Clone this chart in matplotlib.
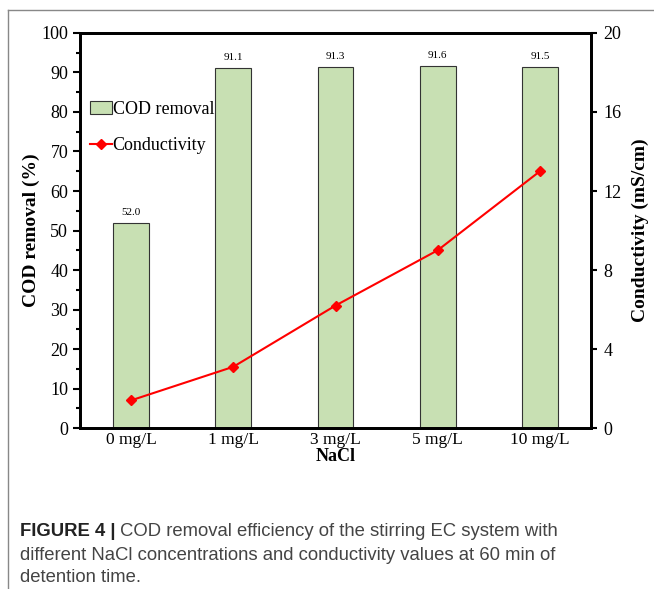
import numpy as np
import matplotlib
matplotlib.use("Agg")
import matplotlib.pyplot as plt
from matplotlib.lines import Line2D

# data
nacl = ['0 mg/L', '1 mg/L', '3 mg/L', '5 mg/L', '10 mg/L']
cod_removal = [52.0, 91.1, 91.3, 91.6, 91.5]
conductivity = [1.4, 3.1, 6.2, 9.0, 13.0]

plt.rcParams['font.family'] = ['Liberation Serif', 'DejaVu Serif']

fig = plt.figure(figsize=(6.54, 5.89), dpi=100)
ax = fig.add_axes([0.1223, 0.2733, 0.7814, 0.6707])
x = np.arange(len(nacl))

bars = ax.bar(x, cod_removal, width=0.35, color='#c8e0b3', edgecolor='#333333',
              linewidth=0.8, label='COD removal', zorder=2)
for xi, v in zip(x, cod_removal):
    ax.text(xi, v + 1.5, f'{v:.1f}', ha='center', va='bottom', fontsize=8)

ax.set_xlim(-0.5, len(nacl) - 0.5)
ax.set_ylim(0, 100)
ax.set_yticks(np.arange(0, 101, 10))
ax.set_yticks(np.arange(5, 100, 10), minor=True)
ax.set_xticks(x)
ax.set_xticklabels(nacl, fontsize=12.5)
ax.tick_params(axis='x', length=0, pad=3)
ax.tick_params(axis='y', which='major', direction='out', length=5, width=1.5, labelsize=13)
ax.tick_params(axis='y', which='minor', direction='out', length=3, width=1.5)
ax.set_ylabel('COD removal (%)', fontsize=14, fontweight='bold', labelpad=1)
ax.set_xlabel('NaCl', fontsize=13, fontweight='bold', labelpad=0)
for s in ax.spines.values():
    s.set_linewidth(2)

ax2 = ax.twinx()
line, = ax2.plot(x, conductivity, color='#ff0000', marker='D', markersize=5,
                 linewidth=1.5, label='Conductivity', zorder=3)
ax2.set_ylim(0, 20)
ax2.set_yticks(np.arange(0, 21, 4))
ax2.tick_params(axis='y', direction='out', length=4, width=1.5, labelsize=13, pad=5)
ax2.set_ylabel('Conductivity (mS/cm)', fontsize=14, fontweight='bold', labelpad=7)
for s in ax2.spines.values():
    s.set_linewidth(2)

ax.legend([bars, line], ['COD removal', 'Conductivity'], loc='upper left',
          bbox_to_anchor=(-0.012, 0.87), frameon=False, fontsize=13,
          handlelength=1.2, handletextpad=0.05, labelspacing=1.1)

# frame lines around figure panel
fig.add_artist(Line2D([8/654, 1.0], [1 - 10/589, 1 - 10/589], color='#888888', linewidth=1))
fig.add_artist(Line2D([8/654, 8/654], [0, 1 - 10/589], color='#888888', linewidth=1))

# caption
cap_font = ['Liberation Sans', 'DejaVu Sans']
y1 = 1 - 532/589
t1 = fig.text(20/654, y1, 'FIGURE 4 |', fontsize=13.3, fontweight='bold',
              family=cap_font, color='#222222', va='center')
fig.canvas.draw()
bb = t1.get_window_extent()
fig.text((bb.x1 + 4)/654, y1, 'COD removal efficiency of the stirring EC system with',
         fontsize=13.3, family=cap_font, color='#444444', va='center')
fig.text(20/654, 1 - 555/589, 'different NaCl concentrations and conductivity values at 60 min of',
         fontsize=13.3, family=cap_font, color='#444444', va='center')
fig.text(20/654, 1 - 577/589, 'detention time.',
         fontsize=13.3, family=cap_font, color='#444444', va='center')

fig.savefig('out.png', dpi=100)
